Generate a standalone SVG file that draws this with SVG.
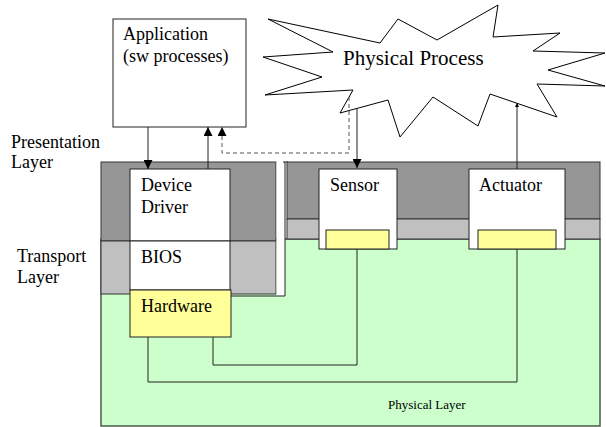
<svg xmlns="http://www.w3.org/2000/svg" width="606" height="427" viewBox="0 0 606 427" font-family="'Liberation Serif', 'DejaVu Serif', serif">
  <defs>
    <marker id="arrow" viewBox="0 0 10 10" refX="10" refY="5" markerWidth="9" markerHeight="9" markerUnits="userSpaceOnUse" orient="auto">
      <path d="M0,0 L10,5 L0,10 Z" fill="#000"/>
    </marker>
    <marker id="arrowSmall" viewBox="0 0 10 10" refX="10" refY="5" markerWidth="4" markerHeight="4" markerUnits="userSpaceOnUse" orient="auto">
      <path d="M0,0 L10,5 L0,10 Z" fill="#000"/>
    </marker>
  </defs>
  <style>
    .lbl { font-size: 18px; fill: #000; }
    .big { font-size: 21px; fill: #000; }
    .small { font-size: 13px; fill: #000; }
    .dark { fill: #969696; stroke: #333; stroke-width: 1; }
    .light { fill: #c0c0c0; stroke: #333; stroke-width: 1; }
    .green { fill: #ccffcc; stroke: #4d5a4d; stroke-width: 1.5; }
    .box { fill: #fff; stroke: #222; stroke-width: 1; }
    .chip { fill: #ffff99; stroke: #222; stroke-width: 1; }
    .wire { fill: none; stroke: #222; stroke-width: 1; }
    .dash { fill: none; stroke: #555; stroke-width: 1; stroke-dasharray: 4 3; }
  </style>

  <!-- layer bands -->
  <g id="layers">
    <rect class="green" x="101" y="239" width="499" height="187"/>
    <rect class="dark" x="101" y="162" width="175" height="79"/>
    <rect class="light" x="101" y="241" width="175" height="53"/>
    <rect x="276.5" y="162" width="8.5" height="134" fill="#fff"/>
    <polyline class="wire" points="283,162 288,162"/>
    <polyline class="wire" points="285,162 285,296 230,296"/>
    <rect class="dark" x="287" y="162" width="313" height="57"/>
    <rect class="light" x="287" y="219" width="313" height="20"/>
    <text class="small" x="388" y="409">Physical Layer</text>
  </g>

  <!-- side labels -->
  <g id="layer-labels">
    <text class="lbl" x="11" y="148">Presentation</text>
    <text class="lbl" x="11" y="168">Layer</text>
    <text class="lbl" x="17" y="262">Transport</text>
    <text class="lbl" x="17" y="283">Layer</text>
  </g>

  <g id="application">
    <rect class="box" x="113" y="19" width="133" height="108"/>
    <text class="lbl" x="123" y="40">Application</text>
    <text class="lbl" x="123" y="62">(sw processes)</text>
  </g>

  <g id="physical-process">
    <polygon fill="#fff" stroke="#000" stroke-width="1" points="268,19 380,43 398,19 437,40 498,5 493,37 560,33 533,51 605,53 548,70 605,86 537,84 557,117 490,94 478,126 433,97 400,137 388,100 340,113 353,90 265,95 322,77 263,57 333,52"/>
    <text class="big" x="343" y="65">Physical Process</text>
  </g>

  <g id="device-driver">
    <rect class="box" x="130" y="169" width="100" height="72"/>
    <text class="lbl" x="141" y="191">Device</text>
    <text class="lbl" x="141" y="213">Driver</text>
  </g>

  <g id="bios">
    <rect class="box" x="130" y="241" width="100" height="49"/>
    <text class="lbl" x="141" y="263">BIOS</text>
  </g>

  <g id="hardware">
    <rect class="chip" x="130" y="290" width="101" height="47"/>
    <text class="lbl" x="141" y="312">Hardware</text>
  </g>

  <g id="sensor">
    <rect class="box" x="319" y="169" width="78" height="80"/>
    <rect class="chip" x="326" y="230" width="63" height="19"/>
    <text class="lbl" x="330" y="191">Sensor</text>
  </g>

  <g id="actuator">
    <rect class="box" x="469" y="169" width="96" height="80"/>
    <rect class="chip" x="478" y="230" width="78" height="19"/>
    <text class="lbl" x="479" y="191">Actuator</text>
  </g>

  <g id="connectors">
    <line class="wire" x1="148" y1="127" x2="148" y2="169" marker-end="url(#arrow)"/>
    <line class="wire" x1="208" y1="169" x2="208" y2="127" marker-end="url(#arrow)"/>
    <polyline class="dash" points="349,97 349,153 222,153 222,127" marker-end="url(#arrow)"/>
    <line class="wire" x1="357" y1="108" x2="357" y2="168" marker-end="url(#arrow)"/>
    <line class="wire" x1="517" y1="169" x2="517" y2="103" marker-end="url(#arrowSmall)"/>
    <polyline class="wire" points="357,249 357,365 213,365 213,337"/>
    <polyline class="wire" points="517,249 517,382 148,382 148,337"/>
  </g>
</svg>
